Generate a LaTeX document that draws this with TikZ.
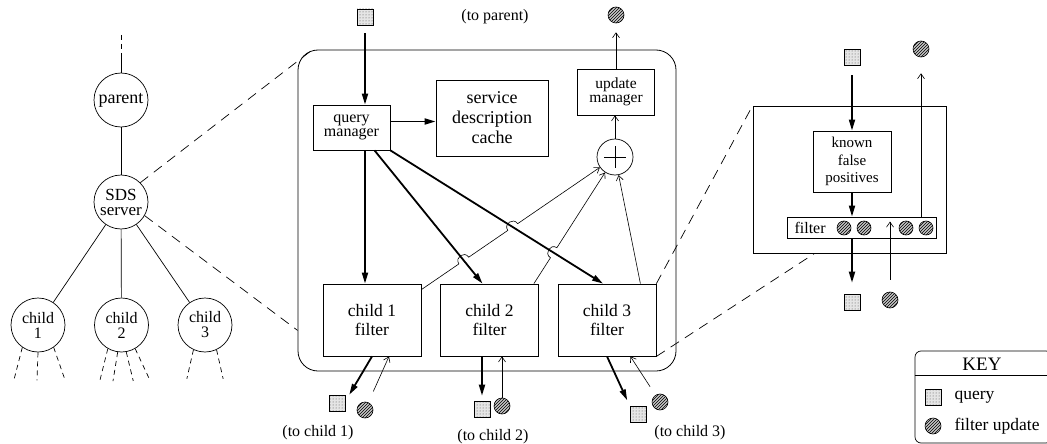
\documentclass[tikz,border=0pt]{standalone}
\usepackage{fontspec}
\setmainfont{Liberation Serif}
\usetikzlibrary{arrows.meta,patterns,calc,intersections}

\tikzset{
  treenode/.style={circle,draw,line width=0.7pt,minimum size=54pt,inner sep=0pt,align=center,font=\fontsize{16}{15}\selectfont},
  procbox/.style={draw,line width=0.8pt,inner sep=0pt,align=center},
  qry/.style={draw,line width=0.6pt,minimum size=16pt,inner sep=0pt,preaction={fill=gray!20},pattern=dots,pattern color=black!70},
  upd/.style={circle,draw,line width=0.6pt,minimum size=16pt,inner sep=0pt,preaction={fill=gray!45},pattern=north east lines},
  bigarrow/.style={line width=1.8pt,-{Triangle[length=11pt,width=6pt]}},
  smallarrow/.style={line width=0.6pt,-{Straight Barb[length=5pt,width=7pt]}},
  zoomline/.style={line width=0.7pt,dash pattern=on 10pt off 7pt},
  stub/.style={line width=0.7pt,dash pattern=on 5pt off 4pt},
  jump/.style={bend left=90,looseness=1.7},
  lbl/.style={font=\fontsize{16}{16}\selectfont},
}

\begin{document}
\begin{tikzpicture}[x=1pt,y=-1pt]
  \useasboundingbox (0,0) rectangle (1047,444);

  % the tree of servers
  \node[treenode,font=\fontsize{18}{15}\selectfont] (parent) at (121,100) {parent};
  \node[treenode,font=\fontsize{17}{15}\selectfont] (sds) at (121,202) {SDS\\server};
  \node[treenode] (ch1) at (38,325) {child\\1};
  \node[treenode] (ch2) at (121.5,325) {child\\2};
  \node[treenode] (ch3) at (205,325) {child\\3};
  \coordinate (up1) at (121,35);
  \coordinate (up2) at (121,56);
  \draw[stub] (up1) -- (up2);
  \draw[line width=0.7pt] (up2) -- (parent) -- (sds);
  \draw[line width=0.7pt] (sds) -- (ch1) (sds) -- (ch2) (sds) -- (ch3);
  \foreach \a/\dx/\dy in {235/-8.5/33,270/-1/28,305/11.5/33}
    \draw[stub] (ch1.\a) -- ++(\dx,\dy);
  \foreach \a/\dx/\dy in {240/-8/32,262/-4.7/29,280/7/29,300/15/32}
    \draw[stub] (ch2.\a) -- ++(\dx,\dy);
  \foreach \a/\dx/\dy in {245/-6.6/29,295/6.6/29}
    \draw[stub] (ch3.\a) -- ++(\dx,\dy);

  % the server, zoomed in
  \node[draw,line width=0.8pt,rounded corners=20pt,minimum width=378pt,minimum height=321pt] (srv) at (487,210.5) {};
  \node[qry] (qin) at (365,17) {};
  \node[lbl] (topar) at (495,17) {(to parent)};
  \node[upd] (uout) at (616,15) {};
  \node[procbox,minimum width=77pt,minimum height=45pt,font=\fontsize{16}{14.5}\selectfont] (qm) at (351.5,127.5) {query\\manager};
  \node[procbox,minimum width=112pt,minimum height=76pt,font=\fontsize{18}{20}\selectfont] (sdc) at (492,118) {service\\description\\cache};
  \node[procbox,minimum width=77pt,minimum height=46pt,font=\fontsize{15.5}{14.5}\selectfont] (upm) at (616,92) {update\\manager};
  \node[circle,draw,line width=0.7pt,minimum size=36pt,inner sep=0pt] (plus) at (615,157) {};
  \draw[line width=0.6pt] ([yshift=11pt]plus.center) -- ([yshift=-11pt]plus.center)
    ([xshift=-11pt]plus.center) -- ([xshift=11pt]plus.center);
  \foreach \i/\x in {1/372,2/489.5,3/607}
    \node[procbox,minimum width=98pt,minimum height=72pt,font=\fontsize{17.5}{19}\selectfont] (cf\i) at (\x,320) {child \i\\filter};

  \draw[bigarrow,shorten <=8pt] (qin.south) -- (qin.south |- qm.north);
  \draw[bigarrow] ([yshift=6pt]qm.east) -- ([yshift=6pt]qm.east -| sdc.west);
  \draw[bigarrow] (qin.south |- qm.south) -- (qin.south |- cf1.north);
  \draw[bigarrow,name path=qc2] ([xshift=23pt]qm.south) -- ([xshift=-7pt]cf2.north);
  \draw[bigarrow,name path=qc3] (qm.south east) -- ([xshift=-4pt]cf3.north);
  \draw[smallarrow,shorten >=9pt] (upm.north) -- (upm.north |- uout.south);
  \draw[smallarrow] (plus.north) -- (plus.north |- upm.south);

  % updates going up to the adder, jumping over the queries
  \coordinate (s1) at ([yshift=-6pt]cf1.north east);
  \coordinate (s2) at ([xshift=-5pt]cf2.north east);
  \coordinate (s3) at ([xshift=-16pt]cf3.north east);
  \path[name path=f1] (s1) -- (plus.center);
  \path[name path=f2] (s2) -- (plus.center);
  \path[name intersections={of=f1 and qc2,by=j1}];
  \path[name intersections={of=f1 and qc3,by=j2}];
  \path[name intersections={of=f2 and qc3,by=j3}];
  \draw[smallarrow] (s1) -- ($(j1)!6pt!(s1)$) to[jump] ($(j1)!6pt!(plus)$)
    -- ($(j2)!6pt!(s1)$) to[jump] ($(j2)!6pt!(plus)$) -- (plus);
  \draw[smallarrow] (s2) -- ($(j3)!6pt!(s2)$) to[jump] ($(j3)!6pt!(plus)$) -- (plus);
  \draw[smallarrow] (s3) -- (plus);

  % to the children
  \node[qry] (q1) at (337,403) {};
  \node[upd] (u1) at (365,410) {};
  \node[lbl] (t1) at (318,433) {(to child 1)};
  \draw[bigarrow] (cf1.south) -- ([xshift=4pt]q1.north east);
  \draw[smallarrow,shorten <=12pt] (u1) -- ([xshift=17pt]cf1.south);
  \node[qry] (q2) at (482,409) {};
  \node[upd] (u2) at (502,406) {};
  \node[lbl] (t2) at (493,437) {(to child 2)};
  \draw[bigarrow,shorten >=5pt] (q2.north |- cf2.south) -- (q2.north);
  \draw[smallarrow] (u2.north) -- (u2.north |- cf2.south);
  \node[qry] (q3) at (638,414) {};
  \node[upd] (u3) at (660,402) {};
  \node[lbl] (t3) at (690,433) {(to child 3)};
  \draw[bigarrow,shorten >=6pt] (cf3.south) -- (q3.north west);
  \draw[smallarrow,shorten <=10pt] (u3) -- ([xshift=-26pt]cf3.south east);

  % the filter, zoomed in
  \node[draw,line width=0.8pt,minimum width=193pt,minimum height=147pt] (rbox) at (849.5,179.5) {};
  \node[qry] (q4) at (852,57) {};
  \node[upd] (u4) at (921,49) {};
  \node[procbox,minimum width=78pt,minimum height=61pt,font=\fontsize{15}{17.5}\selectfont] (kfp) at (852,161.5) {known\\false\\positives};
  \node[procbox,minimum width=149pt,minimum height=21pt] (filt) at (861.5,227.5) {};
  \node[lbl,anchor=west] (filtl) at (791,228) {filter};
  \foreach \i/\x in {1/844,2/864,3/906,4/926}
    \node[upd,minimum size=14pt] (b\i) at (\x,228) {};
  \node[qry] (q5) at (852,302) {};
  \node[upd] (u5) at (890,300) {};
  \draw[bigarrow,shorten <=10pt] (q4) -- (kfp);
  \draw[bigarrow] (kfp) -- (kfp.south |- filt.north);
  \draw[bigarrow,shorten >=11pt] (kfp.south |- filt.south) -- (q5);
  \draw[smallarrow,shorten <=12pt] (u5) -- ([yshift=-5pt]u5 |- filt.north);
  \draw[smallarrow,shorten >=16pt] (u4 |- filt.north) -- (u4);

  % zoom lines
  \draw[zoomline] (sds.45) -- ([xshift=15pt]srv.north west);
  \draw[zoomline] (sds.-30) -- ([yshift=41pt]srv.south west);
  \draw[zoomline] (cf3.north east) -- (rbox.north west);
  \draw[zoomline] (cf3.south east) -- ([xshift=62pt]rbox.south west);

  % key
  \node[draw,line width=0.7pt,rounded corners=6pt,minimum width=137pt,minimum height=92pt] (key) at (983.5,397) {};
  \draw[line width=0.6pt] ([yshift=-25pt]key.north west) -- ([yshift=-25pt]key.north east);
  \node[font=\fontsize{19}{19}\selectfont] (keyt) at (982,364) {KEY};
  \node[qry] (kq) at (933,397) {};
  \node[upd] (ku) at (933,426) {};
  \node[font=\fontsize{17.5}{17.5}\selectfont,anchor=west] (kql) at (951,397) {query};
  \node[font=\fontsize{17.5}{17.5}\selectfont,anchor=west] (kul) at (951,426) {filter update};
\end{tikzpicture}
\end{document}
